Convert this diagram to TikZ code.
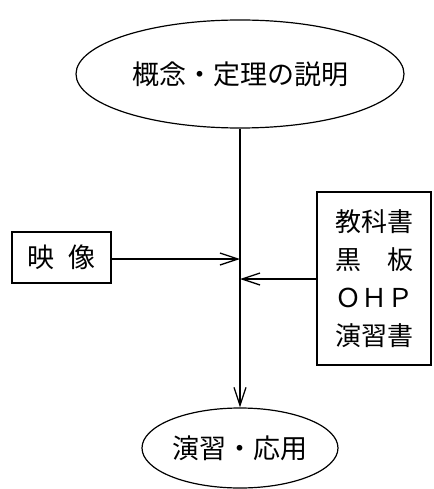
\documentclass[tikz,border=0pt]{standalone}
\usepackage{fontspec}
\setmainfont{Noto Sans CJK JP}
\usetikzlibrary{shapes.geometric,arrows.meta}
\tikzset{
  oval/.style={draw, ellipse, line width=1.2pt, inner sep=0pt, font=\fontsize{27}{32}\selectfont},
  boxnode/.style={draw, rectangle, line width=1.2pt, inner sep=0pt},
  flow/.style={line width=1.3pt, -{Straight Barb[length=18pt,width=12pt,line width=1.3pt]}},
  spine/.style={line width=1.3pt}
}
\begin{document}
\begin{tikzpicture}[x=1pt,y=-1pt]
\useasboundingbox (0,0) rectangle (433,489);
\node[oval, minimum width=328pt, minimum height=108pt] (top) at (240,74) {概念・定理の説明};
\node[oval, minimum width=196pt, minimum height=80pt] (bot) at (240,448) {演習・応用};
\node[boxnode, minimum width=99pt, minimum height=51pt, font=\fontsize{27}{32}\selectfont] (eizo) at (61.5,257.5) {映\hspace{0.55em}像};
\node[boxnode, minimum width=114pt, minimum height=173pt, align=center, font=\fontsize{26}{38}\selectfont] (tools) at (374,278.5) {教科書\\黒　板\\ＯＨＰ\\演習書};
\coordinate (s1) at (240,259);
\coordinate (s2) at (240,279);
\draw[flow] (top.south) -- (bot.north);
\draw[flow] (eizo.east |- s1) -- (s1);
\draw[flow] (tools.west |- s2) -- (s2);
\end{tikzpicture}
\end{document}
